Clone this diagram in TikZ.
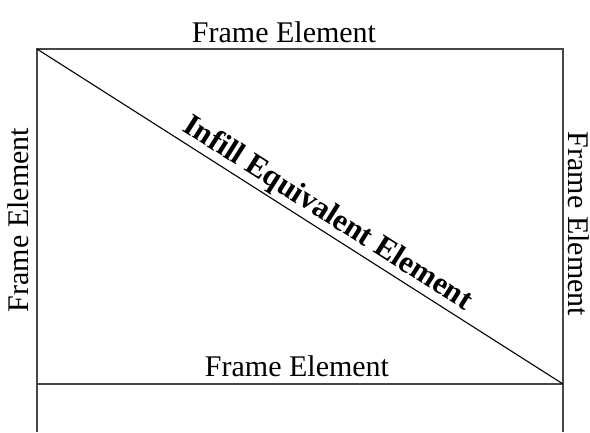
\documentclass[tikz,border=0pt]{standalone}
\usepackage{fontspec}
\setmainfont{Liberation Serif}
\begin{document}
\begin{tikzpicture}[x=1pt,y=-1pt,
  frame/.style={draw=black!72,line width=1.4pt},
  brace/.style={draw=black,line width=1.1pt},
  lbl/.style={font=\fontsize{30}{30}\selectfont,inner sep=0pt},
  blbl/.style={font=\fontsize{31}{31}\selectfont\bfseries,inner sep=2pt}]
\useasboundingbox (0,0) rectangle (590,432);
\coordinate (tl) at (37,49);
\coordinate (tr) at (563,49);
\coordinate (bl) at (37,384);
\coordinate (br) at (563,384);
\coordinate (bl0) at (37,432);
\coordinate (br0) at (563,432);
\draw[frame] (bl0) -- (tl) -- (tr) -- (br0);
\draw[frame] (bl) -- (br);
\draw[brace] (tl) -- node[blbl,sloped,above,pos=0.535] (inf) {Infill Equivalent Element} (br);
\node[lbl,anchor=base] (top) at (284,42) {Frame Element};
\node[lbl,anchor=base] (bot) at (297,376) {Frame Element};
\node[lbl,rotate=90] (left) at (18,220) {Frame Element};
\node[lbl,rotate=-90] (right) at (579,224) {Frame Element};
\end{tikzpicture}
\end{document}
